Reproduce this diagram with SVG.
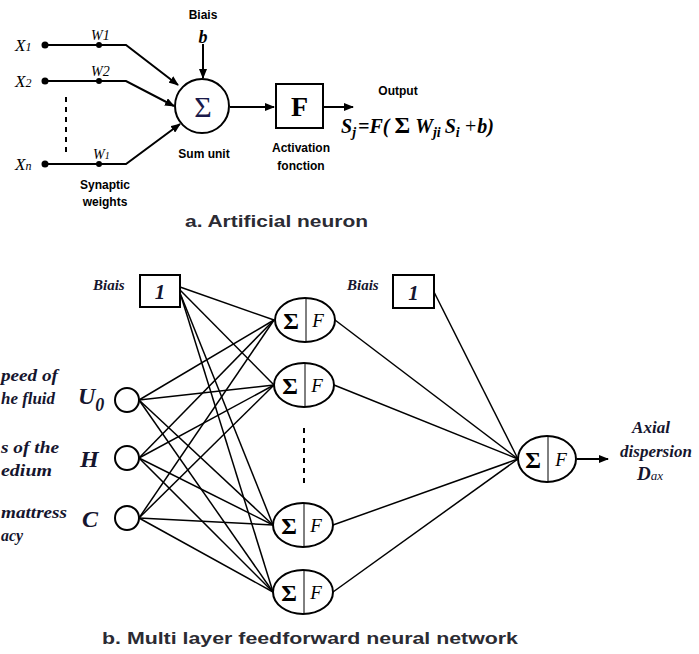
<svg xmlns="http://www.w3.org/2000/svg" width="699" height="654" viewBox="0 0 699 654">
<style>
.sans{font-family:"Liberation Sans",Arial,sans-serif;font-weight:bold;fill:#000}
.ser{font-family:"Liberation Serif","Times New Roman",serif}
.it{font-family:"Liberation Serif","Times New Roman",serif;font-style:italic;font-weight:bold;fill:#15152e}
.ln{stroke:#000;stroke-width:2;fill:none}
.cn{stroke:#000;stroke-width:1.5;fill:none}
.nd{stroke:#000;stroke-width:2;fill:#fff}
.title{font-family:"Liberation Sans",Arial,sans-serif;font-weight:bold;fill:#2b2b33}
</style>
<defs>
<marker id="ah" markerWidth="10" markerHeight="8" refX="9" refY="4" orient="auto" markerUnits="userSpaceOnUse">
<path d="M0,0 L10,4 L0,8 Z" fill="#000"/>
</marker>
</defs>
<rect width="699" height="654" fill="#fff"/>

<!-- Part a -->
<g id="connectors-a">
<polyline class="ln" points="45,45 126,45 178,85" marker-end="url(#ah)"/>
<polyline class="ln" points="45,81 126,81 174,106" marker-end="url(#ah)"/>
<polyline class="ln" points="45,164 126,164 180,124" marker-end="url(#ah)"/>
<line class="ln" x1="66" y1="97" x2="66" y2="152" stroke-dasharray="5,5"/>
<line class="ln" x1="203" y1="44" x2="203" y2="78" marker-end="url(#ah)"/>
<line class="ln" x1="230" y1="107" x2="274" y2="107" marker-end="url(#ah)"/>
<line class="ln" x1="323" y1="107" x2="353" y2="107" marker-end="url(#ah)"/>
<circle cx="45" cy="45" r="3.5"/><circle cx="99" cy="45" r="3"/>
<circle cx="45" cy="81" r="3.5"/><circle cx="99" cy="81" r="3"/>
<circle cx="45" cy="164" r="3.5"/><circle cx="99" cy="164" r="3"/>
</g>
<g id="inputs-a">
<text class="ser" font-style="italic" font-size="17" x="15" y="51">X<tspan font-size="12">1</tspan></text>
<text class="ser" font-style="italic" font-size="17" x="15" y="87">X<tspan font-size="12">2</tspan></text>
<text class="ser" font-style="italic" font-size="17" x="15" y="170">X<tspan font-size="12">n</tspan></text>
<text class="ser" font-style="italic" font-size="14" x="91" y="40">W1</text>
<text class="ser" font-style="italic" font-size="14" x="91" y="76">W2</text>
<text class="ser" font-style="italic" font-size="14" x="93" y="159">W<tspan font-size="10">1</tspan></text>
<text class="sans" font-size="12" x="105" y="189" text-anchor="middle">Synaptic</text>
<text class="sans" font-size="12" x="105" y="206" text-anchor="middle">weights</text>
</g>
<g id="sum-unit">
<text class="sans" font-size="12" x="203" y="19" text-anchor="middle">Biais</text>
<text class="ser" font-style="italic" font-weight="bold" font-size="18" x="203" y="43" text-anchor="middle">b</text>
<circle class="nd" cx="202" cy="106" r="27" stroke-width="3"/>
<text class="ser" font-size="30" x="203" y="117" text-anchor="middle" fill="#1a1a4a">Σ</text>
<text class="sans" font-size="12" x="204" y="158" text-anchor="middle">Sum unit</text>
</g>
<g id="activation">
<rect class="nd" x="276" y="84" width="47" height="44" stroke-width="3"/>
<text class="ser" font-weight="bold" font-size="28" x="299.5" y="116" text-anchor="middle">F</text>
<text class="sans" font-size="12" x="301" y="152" text-anchor="middle">Activation</text>
<text class="sans" font-size="12" x="301" y="170" text-anchor="middle">fonction</text>
</g>
<g id="output-a">
<text class="sans" font-size="12" x="398" y="95" text-anchor="middle">Output</text>
<text class="ser" font-style="italic" font-weight="bold" font-size="20" x="341" y="133">S<tspan dy="4" font-size="14">j</tspan><tspan dy="-4" dx="2">=F(</tspan><tspan dx="5" font-style="normal" font-size="24">Σ</tspan><tspan dx="5">W</tspan><tspan dy="4" font-size="14">ji</tspan><tspan dy="-4" dx="4">S</tspan><tspan dy="4" font-size="14">i</tspan><tspan dy="-4" dx="4" font-weight="normal">+</tspan><tspan>b)</tspan></text>
</g>
<text class="title" font-size="17" x="185" y="227" textLength="183" lengthAdjust="spacingAndGlyphs">a. Artificial neuron</text>

<!-- Part b -->
<g id="connectors-b">
<line class="cn" x1="180" y1="287" x2="274" y2="320"/>
<line class="cn" x1="180" y1="290" x2="274" y2="385"/>
<line class="cn" x1="180" y1="293" x2="273" y2="525"/>
<line class="cn" x1="181" y1="296" x2="273" y2="592"/>
<line class="cn" x1="139" y1="400" x2="274" y2="320"/>
<line class="cn" x1="139" y1="400" x2="274" y2="385"/>
<line class="cn" x1="139" y1="400" x2="273" y2="525"/>
<line class="cn" x1="139" y1="400" x2="273" y2="592"/>
<line class="cn" x1="139" y1="458" x2="274" y2="320"/>
<line class="cn" x1="139" y1="458" x2="274" y2="385"/>
<line class="cn" x1="139" y1="458" x2="273" y2="525"/>
<line class="cn" x1="139" y1="458" x2="273" y2="592"/>
<line class="cn" x1="139" y1="518" x2="274" y2="320"/>
<line class="cn" x1="139" y1="518" x2="274" y2="385"/>
<line class="cn" x1="139" y1="518" x2="273" y2="525"/>
<line class="cn" x1="139" y1="518" x2="273" y2="592"/>
<line class="cn" x1="335" y1="320" x2="518" y2="459"/>
<line class="cn" x1="334" y1="385" x2="518" y2="459"/>
<line class="cn" x1="333" y1="525" x2="518" y2="459"/>
<line class="cn" x1="333" y1="592" x2="518" y2="459"/>
<line class="cn" x1="434" y1="292" x2="518" y2="459"/>
<line class="ln" x1="577" y1="459" x2="608" y2="459" marker-end="url(#ah)"/>
<line class="ln" x1="304" y1="428" x2="304" y2="488" stroke-dasharray="5,5"/>
</g>
<g id="bias1">
<text class="it" font-size="15" x="93" y="290">Biais</text>
<rect class="nd" x="140" y="275" width="40" height="32"/>
<text class="it" font-size="21" x="160" y="299" text-anchor="middle" fill="#000">1</text>
</g>
<g id="bias2">
<text class="it" font-size="15" x="347" y="290">Biais</text>
<rect class="nd" x="393" y="275" width="41" height="33"/>
<text class="it" font-size="21" x="413.5" y="300" text-anchor="middle" fill="#000">1</text>
</g>
<g id="input-U0">
<text class="it" font-size="17" x="1" y="381" textLength="57" lengthAdjust="spacingAndGlyphs">peed of</text>
<text class="it" font-size="17" x="1" y="404" textLength="54" lengthAdjust="spacingAndGlyphs">he fluid</text>
<text class="it" font-size="24" x="78" y="404">U<tspan font-size="18" dy="7">0</tspan></text>
<circle class="nd" cx="127" cy="400" r="12" stroke-width="1.8"/>
</g>
<g id="input-H">
<text class="it" font-size="17" x="1" y="453" textLength="58" lengthAdjust="spacingAndGlyphs">s of the</text>
<text class="it" font-size="17" x="1" y="476" textLength="51" lengthAdjust="spacingAndGlyphs">edium</text>
<text class="it" font-size="24" x="80" y="467">H</text>
<circle class="nd" cx="127" cy="458" r="12" stroke-width="1.8"/>
</g>
<g id="input-C">
<text class="it" font-size="17" x="1" y="518" textLength="66" lengthAdjust="spacingAndGlyphs">mattress</text>
<text class="it" font-size="17" x="1" y="541" textLength="22" lengthAdjust="spacingAndGlyphs">acy</text>
<text class="it" font-size="24" x="82" y="527">C</text>
<circle class="nd" cx="127" cy="518" r="12" stroke-width="1.8"/>
</g>
<g id="hidden1">
<ellipse class="nd" cx="305" cy="320" rx="30" ry="22"/>
<line x1="306" y1="298" x2="306" y2="342" stroke="#000" stroke-width="1"/>
<text class="ser" font-size="24" x="291" y="329" text-anchor="middle" font-weight="bold">Σ</text>
<text class="ser" font-style="italic" font-size="19" x="318" y="327" text-anchor="middle">F</text>
</g>
<g id="hidden2">
<ellipse class="nd" cx="304" cy="385" rx="30" ry="22"/>
<line x1="305" y1="363" x2="305" y2="407" stroke="#000" stroke-width="1"/>
<text class="ser" font-size="24" x="290" y="394" text-anchor="middle" font-weight="bold">Σ</text>
<text class="ser" font-style="italic" font-size="19" x="317" y="392" text-anchor="middle">F</text>
</g>
<g id="hidden3">
<ellipse class="nd" cx="303" cy="525" rx="30" ry="22"/>
<line x1="304" y1="503" x2="304" y2="547" stroke="#000" stroke-width="1"/>
<text class="ser" font-size="24" x="289" y="534" text-anchor="middle" font-weight="bold">Σ</text>
<text class="ser" font-style="italic" font-size="19" x="316" y="532" text-anchor="middle">F</text>
</g>
<g id="hidden4">
<ellipse class="nd" cx="303" cy="592" rx="30" ry="22"/>
<line x1="304" y1="570" x2="304" y2="614" stroke="#000" stroke-width="1"/>
<text class="ser" font-size="24" x="289" y="601" text-anchor="middle" font-weight="bold">Σ</text>
<text class="ser" font-style="italic" font-size="19" x="316" y="599" text-anchor="middle">F</text>
</g>
<g id="output-node">
<ellipse class="nd" cx="547" cy="459" rx="29" ry="23"/>
<line x1="548" y1="436" x2="548" y2="482" stroke="#000" stroke-width="1"/>
<text class="ser" font-size="24" x="533" y="468" text-anchor="middle" font-weight="bold">Σ</text>
<text class="ser" font-style="italic" font-size="19" x="561" y="466" text-anchor="middle">F</text>
<text class="it" font-size="17" x="651" y="433" text-anchor="middle">Axial</text>
<text class="it" font-size="17" x="656" y="457" text-anchor="middle">dispersion</text>
<text class="it" font-size="19" x="637" y="480">D<tspan font-size="13" font-weight="normal">ax</tspan></text>
</g>
<text class="title" font-size="17" x="102" y="644" textLength="416" lengthAdjust="spacingAndGlyphs" fill="#000">b. Multi layer feedforward neural network</text>
</svg>
